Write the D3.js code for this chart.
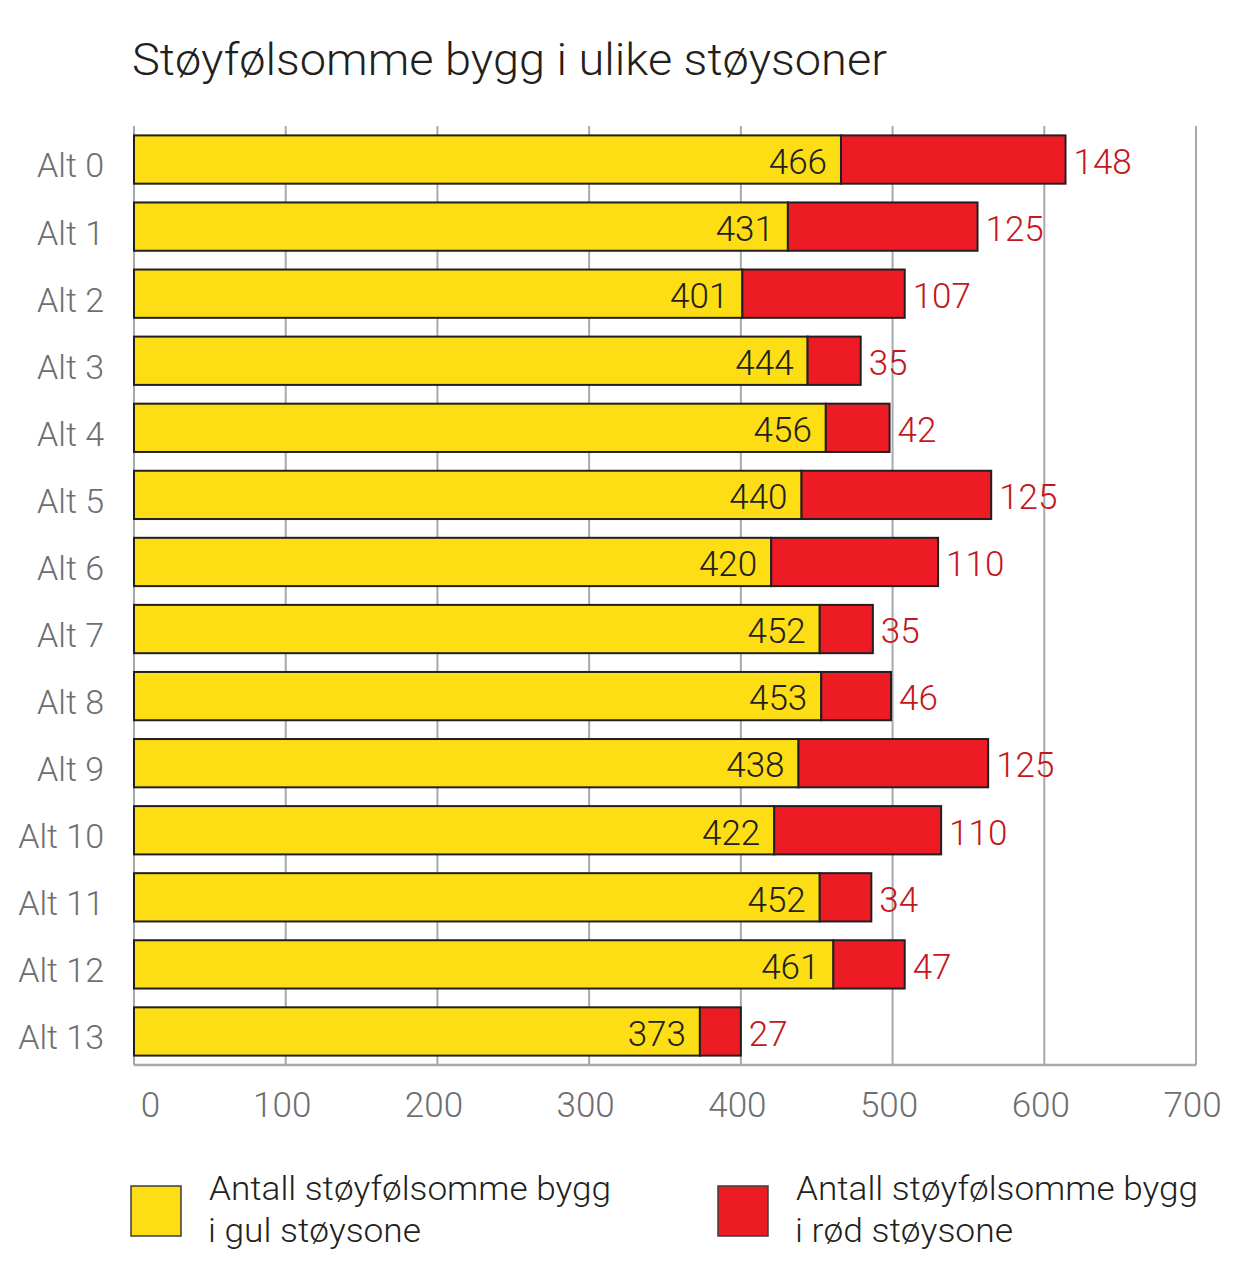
<!DOCTYPE html>
<html>
<head>
<meta charset="utf-8">
<script src="https://cdn.jsdelivr.net/npm/d3@7"></script>
<style>
  body { margin: 0; background: #fff; }
  text { font-family: Roboto, "Open Sans", sans-serif; font-weight: 300; }
</style>
</head>
<body>
<script>
// values
const alts = ["Alt 0", "Alt 1", "Alt 2", "Alt 3", "Alt 4", "Alt 5", "Alt 6", "Alt 7", "Alt 8", "Alt 9", "Alt 10", "Alt 11", "Alt 12", "Alt 13"]
const gul = [466, 431, 401, 444, 456, 440, 420, 452, 453, 438, 422, 452, 461, 373]
const rod = [148, 125, 107, 35, 42, 125, 110, 35, 46, 125, 110, 34, 47, 27]
const xTicks = [0, 100, 200, 300, 400, 500, 600, 700]
const legendLines = [
  ["Antall støyfølsomme bygg", "i gul støysone"],
  ["Antall støyfølsomme bygg", "i rød støysone"]
]
const legendWidths = [[402, 213], [402, 218]]

const W = 1257, H = 1262
const pLeft = 134, pRight = 1196, pTop = 126, pBottom = 1065
const yellow = "#fddd13", red = "#ed1c24", dark = "#231f20", grid = "#a7a9ac", gray = "#6d6e71", redText = "#c4161c"

const rows = alts.map((a, i) => ({ alt: a, g: gul[i], r: rod[i] }))

const svg = d3.select("body").append("svg").attr("width", W).attr("height", H)

const x = d3.scaleLinear().domain([0, 700]).range([pLeft, pRight])
const y = d3.scaleBand().domain(alts).range([pTop, pBottom]).paddingInner(0.28).paddingOuter(0.14)

svg.append("text").attr("x", 132).attr("y", 75)
  .attr("font-size", 45).attr("fill", dark)
  .attr("textLength", 755).attr("lengthAdjust", "spacingAndGlyphs")
  .text("Støyfølsomme bygg i ulike støysoner")

// gridlines
svg.append("g").selectAll("line").data(xTicks).enter().append("line")
  .attr("x1", d => x(d)).attr("x2", d => x(d))
  .attr("y1", pTop).attr("y2", pBottom)
  .attr("stroke", grid).attr("stroke-width", 2)
svg.append("line").attr("x1", pLeft).attr("x2", pRight).attr("y1", pBottom).attr("y2", pBottom)
  .attr("stroke", grid).attr("stroke-width", 2.5)

// x axis labels
const xAxis = svg.append("g").attr("transform", "translate(0," + pBottom + ")")
  .call(d3.axisBottom(x).tickValues(xTicks).tickSize(0).tickPadding(27))
xAxis.select(".domain").remove()
xAxis.selectAll("text").attr("font-size", 35).attr("fill", gray)
  .attr("font-family", "Roboto, sans-serif").attr("font-weight", 300)
  .attr("dx", d => d === 0 ? 16 : -4)

// bars
const bars = svg.append("g").selectAll("g").data(rows).enter().append("g")
bars.append("rect")
  .attr("x", x(0)).attr("y", d => y(d.alt))
  .attr("width", d => x(d.g) - x(0)).attr("height", y.bandwidth())
  .attr("fill", yellow).attr("stroke", dark).attr("stroke-width", 2)
bars.append("rect")
  .attr("x", d => x(d.g)).attr("y", d => y(d.alt))
  .attr("width", d => x(d.g + d.r) - x(d.g)).attr("height", y.bandwidth())
  .attr("fill", red).attr("stroke", dark).attr("stroke-width", 2)

bars.append("text")
  .attr("x", d => x(d.g) - 14).attr("y", d => y(d.alt) + y.bandwidth() / 2 + 2)
  .attr("dy", "0.35em").attr("text-anchor", "end")
  .attr("font-size", 35).attr("fill", dark)
  .text(d => d.g)
bars.append("text")
  .attr("x", d => x(d.g + d.r) + 8).attr("y", d => y(d.alt) + y.bandwidth() / 2 + 2)
  .attr("dy", "0.35em")
  .attr("font-size", 35).attr("fill", redText)
  .text(d => d.r)

// y labels
svg.append("g").selectAll("text").data(alts).enter().append("text")
  .attr("x", 104).attr("y", d => y(d) + y.bandwidth() / 2 + 6)
  .attr("dy", "0.35em").attr("text-anchor", "end")
  .attr("font-size", 34).attr("fill", gray)
  .text(d => d)

// legend
const leg = svg.append("g").selectAll("g").data([yellow, red]).enter().append("g")
  .attr("transform", (d, i) => "translate(" + [131, 718][i] + ",1186)")
leg.append("rect").attr("width", 50).attr("height", 50)
  .attr("fill", d => d).attr("stroke", "#3d3d3d").attr("stroke-width", 1.5)
leg.each(function (d, i) {
  d3.select(this).selectAll("text").data(legendLines[i]).enter().append("text")
    .attr("x", (t, j) => j === 0 ? 78 : 77).attr("y", (t, j) => 14 + j * 42)
    .attr("font-size", 34).attr("fill", dark)
    .attr("textLength", (t, j) => legendWidths[i][j]).attr("lengthAdjust", "spacingAndGlyphs")
    .text(t => t)
})
</script>
</body>
</html>
